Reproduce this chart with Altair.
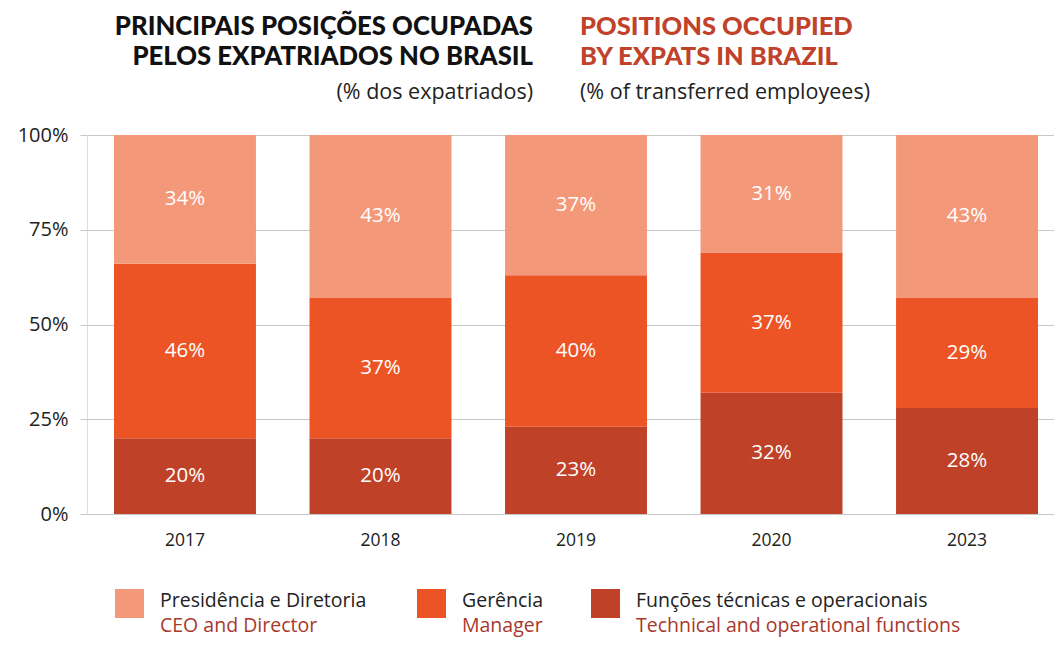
import altair as alt
import pandas as pd

years = ["2017", "2018", "2019", "2020", "2023"]
ceo = [34, 43, 37, 31, 43]
manager = [46, 37, 40, 37, 29]
technical = [20, 20, 23, 32, 28]

cat_pt = ["Presidência e Diretoria", "Gerência", "Funções técnicas e operacionais"]
cat_en = ["CEO and Director", "Manager", "Technical and operational functions"]
colors = ["#F4987A", "#EC5426", "#BF4128"]
y_ticks = [0, 25, 50, 75, 100]

rows = []
for i, y in enumerate(years):
    rows.append({"year": y, "cat": cat_pt[2], "ord": 0, "value": technical[i]})
    rows.append({"year": y, "cat": cat_pt[1], "ord": 1, "value": manager[i]})
    rows.append({"year": y, "cat": cat_pt[0], "ord": 2, "value": ceo[i]})
df = pd.DataFrame(rows)

FONT = "Open Sans"
TITLE_FONT = "Lato"

base = alt.Chart(df).transform_stack(
    stack="value", groupby=["year"], as_=["y0", "y1"], sort=[alt.SortField("ord")]
).transform_calculate(mid="(datum.y0 + datum.y1) / 2", lbl="datum.value + '%'")

xscale = alt.Scale(paddingInner=0.274, paddingOuter=0.11, align=0.628)

xenc = alt.X(
    "year:N",
    title=None,
    sort=years,
    scale=xscale,
    axis=alt.Axis(labelAngle=0, labelFont=FONT, labelFontSize=17.5, labelColor="#222",
                  labelPadding=17, domain=False, ticks=False, grid=False),
)

bars = base.mark_bar().encode(
    x=xenc,
    y=alt.Y("y0:Q", title=None, scale=alt.Scale(domain=[0, 100], nice=False),
            axis=alt.Axis(values=y_ticks, labelExpr="datum.value + '%'", labelFont=FONT,
                          labelFontSize=20, labelColor="#222", labelPadding=12,
                          grid=True, gridColor="#C8C8C8", gridWidth=1,
                          tickSize=7, tickColor="#C8C8C8", domain=False)),
    y2="y1:Q",
    color=alt.Color("cat:N", scale=alt.Scale(domain=cat_pt, range=colors), legend=None),
)

labels = base.mark_text(color="white", font=FONT, fontSize=20.5, baseline="middle").encode(
    x=alt.X("year:N", sort=years, scale=xscale),
    y=alt.Y("mid:Q"),
    text="lbl:N",
)

# Titles
def txt(s, x, y, size, color, align, font=FONT, weight="normal"):
    return alt.Chart(pd.DataFrame({"t": [s]})).mark_text(
        align=align, baseline="alphabetic", fontSize=size, color=color, font=font,
        fontWeight=weight
    ).encode(x=alt.value(x), y=alt.value(y), text="t:N")

titles = [
    txt("PRINCIPAIS POSIÇÕES OCUPADAS", 446, -100, 25.7, "#111", "right", TITLE_FONT, 900),
    txt("PELOS EXPATRIADOS NO BRASIL", 446, -70, 25.7, "#111", "right", TITLE_FONT, 900),
    txt("(% dos expatriados)", 446, -36, 21.5, "#222", "right"),
    txt("POSITIONS OCCUPIED", 493, -100, 25.5, "#C0422B", "left", TITLE_FONT, 900),
    txt("BY EXPATS IN BRAZIL", 493, -70, 25.5, "#C0422B", "left", TITLE_FONT, 900),
    txt("(% of transferred employees)", 493, -36, 21.5, "#222", "left"),
]

# Custom legend
legend_layers = []
sq_x = [28, 330, 504]
tx_x = [73, 375, 549]
for i in range(3):
    legend_layers.append(
        alt.Chart(pd.DataFrame({"c": [cat_pt[i]]})).mark_rect(color=colors[i]).encode(
            x=alt.value(sq_x[i]), x2=alt.value(sq_x[i] + 29),
            y=alt.value(454), y2=alt.value(483))
    )
    legend_layers.append(txt(cat_pt[i], tx_x[i], 472, 19.5, "#222", "left"))
    legend_layers.append(txt(cat_en[i], tx_x[i], 497, 19.5, "#A8392C", "left"))

chart = alt.layer(bars, labels, *titles, *legend_layers).properties(
    width=967, height=379,
    padding={"left": 79, "top": 127, "right": 0, "bottom": 123},
    autosize=alt.AutoSizeParams(type="none"),
).configure_view(stroke=None).configure(background="white")

chart.save("out.html", embed_options={"renderer": "svg", "actions": False})
